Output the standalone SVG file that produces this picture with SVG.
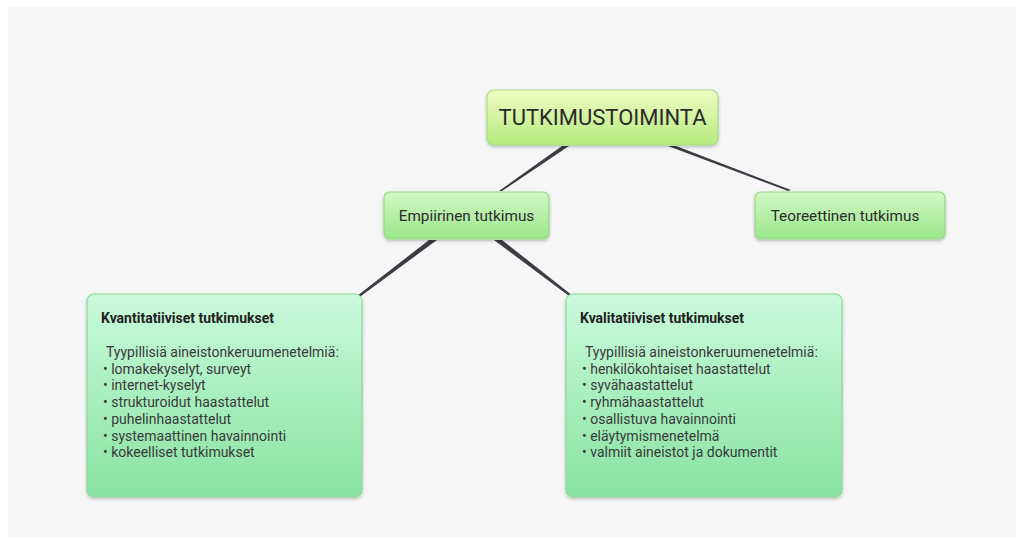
<svg xmlns="http://www.w3.org/2000/svg" width="1016" height="538" viewBox="0 0 1016 538">
<style>
  text { font-family: Roboto, "Liberation Sans", sans-serif; fill: #2b2b2b; }
  .t1 { font-size: 22px; }
  .t2 { font-size: 15.3px; }
  .h { font-size: 14px; font-weight: bold; fill: #222; }
  .b { font-size: 14px; fill: #3a3a3a; }
  .conn { fill: #3c3c44; }
</style>
<defs>
  <linearGradient id="gTop" x1="0" y1="0" x2="0" y2="1">
    <stop offset="0" stop-color="#effcc4"/>
    <stop offset="1" stop-color="#b6ea7e"/>
  </linearGradient>
  <linearGradient id="gMid" x1="0" y1="0" x2="0" y2="1">
    <stop offset="0" stop-color="#d2f8c4"/>
    <stop offset="1" stop-color="#9ae68c"/>
  </linearGradient>
  <linearGradient id="gBig" x1="0" y1="0" x2="0" y2="1">
    <stop offset="0" stop-color="#cafadb"/>
    <stop offset="1" stop-color="#88e3a2"/>
  </linearGradient>
  <filter id="sh" x="-10%" y="-10%" width="120%" height="130%">
    <feDropShadow dx="0" dy="1.5" stdDeviation="1.5" flood-color="#000" flood-opacity="0.25"/>
  </filter>
</defs>
<rect x="0" y="0" width="1016" height="538" fill="#ffffff"/>
<rect x="8" y="6" width="1008" height="531" fill="#f6f6f6"/>
<g id="connectors">
  <polygon class="conn" points="562,146 569,146 502,191 499,191"/>
  <polygon class="conn" points="668,146 676,146 791,190 788,191"/>
  <polygon class="conn" points="429,240 437,240 361,296 357,296"/>
  <polygon class="conn" points="494,240 502,240 573,296 569,296"/>
</g>
<g id="n-tutkimustoiminta">
  <rect x="487" y="90" width="231" height="55" rx="7" fill="url(#gTop)" stroke="#a9dc84" stroke-width="1.2" filter="url(#sh)"/>
  <text class="t1" x="602.5" y="125" text-anchor="middle">TUTKIMUSTOIMINTA</text>
</g>
<g id="n-empiirinen">
  <rect x="384" y="192" width="165" height="47" rx="6" fill="url(#gMid)" stroke="#9bd88a" stroke-width="1.2" filter="url(#sh)"/>
  <text class="t2" x="466.5" y="221" text-anchor="middle">Empiirinen tutkimus</text>
</g>
<g id="n-teoreettinen">
  <rect x="755" y="192" width="190" height="47" rx="6" fill="url(#gMid)" stroke="#9bd88a" stroke-width="1.2" filter="url(#sh)"/>
  <text class="t2" x="845" y="221" text-anchor="middle">Teoreettinen tutkimus</text>
</g>
<g id="n-kvantitatiiviset">
  <rect x="87" y="294" width="275" height="203" rx="7" fill="url(#gBig)" stroke="#8fd8a4" stroke-width="1.2" filter="url(#sh)"/>
  <text class="h" x="101" y="323">Kvantitatiiviset tutkimukset</text>
  <text class="b" x="106" y="357">Tyypillisiä aineistonkeruumenetelmiä:</text>
  <text class="b" x="103" y="373.7">• lomakekyselyt, surveyt</text>
  <text class="b" x="103" y="390.4">• internet-kyselyt</text>
  <text class="b" x="103" y="407.1">• strukturoidut haastattelut</text>
  <text class="b" x="103" y="423.8">• puhelinhaastattelut</text>
  <text class="b" x="103" y="440.5">• systemaattinen havainnointi</text>
  <text class="b" x="103" y="457.2">• kokeelliset tutkimukset</text>
</g>
<g id="n-kvalitatiiviset">
  <rect x="566" y="294" width="276" height="203" rx="7" fill="url(#gBig)" stroke="#8fd8a4" stroke-width="1.2" filter="url(#sh)"/>
  <text class="h" x="580" y="323">Kvalitatiiviset tutkimukset</text>
  <text class="b" x="585" y="357">Tyypillisiä aineistonkeruumenetelmiä:</text>
  <text class="b" x="582" y="373.7">• henkilökohtaiset haastattelut</text>
  <text class="b" x="582" y="390.4">• syvähaastattelut</text>
  <text class="b" x="582" y="407.1">• ryhmähaastattelut</text>
  <text class="b" x="582" y="423.8">• osallistuva havainnointi</text>
  <text class="b" x="582" y="440.5">• eläytymismenetelmä</text>
  <text class="b" x="582" y="457.2">• valmiit aineistot ja dokumentit</text>
</g>
</svg>
